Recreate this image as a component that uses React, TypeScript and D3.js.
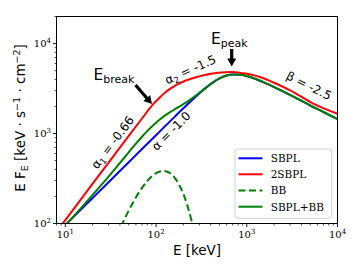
import React from 'react';
import * as d3 from 'd3';

// ---- data ----
const sbplE = [8, 10, 20, 30, 50, 70, 100, 150, 200, 300, 400, 500, 600, 700, 850, 1000, 1500, 2000, 3000, 5000, 7000, 10000];
const sbplV = [77, 96, 192, 288, 480, 672, 959, 1436, 1906, 2795, 3548, 4094, 4413, 4542, 4516, 4364, 3751, 3284, 2694, 2050, 1735, 1450];

const twoSbplE = [8, 10, 20, 30, 50, 70, 93, 110, 125, 145, 170, 210, 270, 345, 480, 700, 850, 1100, 1400, 2000, 3000, 5400, 10000];
const twoSbplV = [81, 109, 277, 476, 944, 1470, 2120, 2520, 2840, 3180, 3500, 3860, 4200, 4480, 4730, 4830, 4710, 4540, 4256, 3670, 3027, 2154, 1660];

const bbE = [30, 35, 40, 45, 50, 60, 70, 80, 90, 100, 110, 120, 130, 140, 160, 180, 200, 220, 240, 250, 260, 280, 300];
const bbV = [44, 64, 87, 112, 139, 195, 249, 296, 335, 363, 379, 384, 379, 367, 324, 269, 213, 162, 119, 101, 85, 60, 41];

const sumE = [8, 10, 20, 30, 40, 50, 60, 70, 80, 90, 100, 110, 120, 130, 140, 160, 180, 200, 220, 250, 300, 400, 500, 600, 700, 850, 1000, 1500, 2000, 3000, 5000, 7000, 10000];
const sumV = [77, 96, 208, 332, 471, 619, 771, 921, 1063, 1198, 1322, 1434, 1534, 1625, 1708, 1854, 1988, 2119, 2252, 2463, 2836, 3553, 4094, 4413, 4542, 4516, 4364, 3751, 3284, 2694, 2050, 1735, 1450];

const xDomain = [8, 10000];
const yDomain = [100, 20000];
const xMajor = [10, 100, 1000, 10000];
const xExp = ['1', '2', '3', '4'];
const yMajor = [100, 1000, 10000];
const yExp = ['2', '3', '4'];

const legendLabels = ['SBPL', '2SBPL', 'BB', 'SBPL+BB'];

// ---- layout ----
const W = 360, H = 270;
const L = 56.5, R = 337.5, T = 16.5, B = 223.5;

const BLUE = '#0000ff', RED = '#ff0000', GREEN = '#008000';
const SERIF = '"DejaVu Serif", serif';
const SANS = '"DejaVu Sans", sans-serif';

function minorTicks(lo: number, hi: number) {
  const out: number[] = [];
  for (let d = Math.pow(10, Math.floor(Math.log10(lo))); d < hi; d *= 10) {
    for (let k = 2; k <= 9; k++) {
      const v = k * d;
      if (v >= lo - 1e-9 && v <= hi + 1e-9) out.push(v);
    }
  }
  return out;
}

function arrowPath(x1: number, y1: number, x2: number, y2: number, sw = 1.6, hw = 4.5, hl = 8) {
  const dx = x2 - x1, dy = y2 - y1;
  const len = Math.hypot(dx, dy);
  const ux = dx / len, uy = dy / len;
  const px = -uy, py = ux;
  const bx = x2 - ux * hl, by = y2 - uy * hl;
  const pts = [
    [x1 + px * sw, y1 + py * sw],
    [bx + px * sw, by + py * sw],
    [bx + px * hw, by + py * hw],
    [x2, y2],
    [bx - px * hw, by - py * hw],
    [bx - px * sw, by - py * sw],
    [x1 - px * sw, y1 - py * sw],
  ];
  return 'M' + pts.map(p => p[0].toFixed(2) + ',' + p[1].toFixed(2)).join('L') + 'Z';
}

export default function App() {
  const x = d3.scaleLog().domain(xDomain).range([L, R]);
  const y = d3.scaleLog().domain(yDomain).range([B, T]);

  const mk = (es: number[], vs: number[]) =>
    d3.line<number>()
      .x((_, i) => x(es[i]))
      .y((_, i) => y(vs[i]))
      .curve(d3.curveMonotoneX)(vs) || '';

  const series = [
    { d: mk(sbplE, sbplV), color: BLUE, dash: undefined as string | undefined },
    { d: mk(twoSbplE, twoSbplV), color: RED, dash: undefined },
    { d: mk(bbE, bbV), color: GREEN, dash: '7,3.5' },
    { d: mk(sumE, sumV), color: GREEN, dash: undefined },
  ];

  const xMinor = minorTicks(xDomain[0], xDomain[1]);
  const yMinor = minorTicks(yDomain[0], yDomain[1]);

  const legendColors = [BLUE, RED, GREEN, GREEN];
  const legendDash = [undefined, undefined, '7,3.5', undefined];
  const legendRows = [158.3, 174.3, 190.6, 206.7];

  return (
    <svg width={W} height={H} viewBox={`0 0 ${W} ${H}`}
      style={{ position: 'absolute', left: 0, top: 0, background: '#fff' }}>
      <defs>
        <clipPath id="plotClip">
          <rect x={L} y={T} width={R - L} height={B - T} />
        </clipPath>
      </defs>
      <rect x={0} y={0} width={W} height={H} fill="#fff" />

      <g clipPath="url(#plotClip)">
        {series.map((s, i) => (
          <path key={i} d={s.d} fill="none" stroke={s.color} strokeWidth={2}
            strokeDasharray={s.dash} strokeLinejoin="round" />
        ))}
      </g>

      {/* frame */}
      <rect x={L} y={T} width={R - L} height={B - T} fill="none" stroke="#000" strokeWidth={1} />

      {/* x ticks */}
      {xMajor.map((v, i) => (
        <g key={'xm' + i}>
          <line x1={x(v)} x2={x(v)} y1={B} y2={B + 3.5} stroke="#000" strokeWidth={0.9} />
          <text x={x(v)} y={238} fontFamily={SERIF} fontSize={10} textAnchor="middle" fill="#000">
            10<tspan dy={-4.5} fontSize={7}>{xExp[i]}</tspan>
          </text>
        </g>
      ))}
      {xMinor.map((v, i) => (
        <line key={'xn' + i} x1={x(v)} x2={x(v)} y1={B} y2={B + 2} stroke="#000" strokeWidth={0.7} />
      ))}

      {/* y ticks */}
      {yMajor.map((v, i) => (
        <g key={'ym' + i}>
          <line x1={L - 3.5} x2={L} y1={y(v)} y2={y(v)} stroke="#000" strokeWidth={0.9} />
          <text x={51} y={y(v) + 3.6} fontFamily={SERIF} fontSize={10} textAnchor="end" fill="#000">
            10<tspan dy={-4.5} fontSize={7}>{yExp[i]}</tspan>
          </text>
        </g>
      ))}
      {yMinor.map((v, i) => (
        <line key={'yn' + i} x1={L - 2} x2={L} y1={y(v)} y2={y(v)} stroke="#000" strokeWidth={0.7} />
      ))}

      {/* axis labels */}
      <text x={197} y={255} fontFamily={SANS} fontSize={13.5} textAnchor="middle" fill="#000">
        E [keV]
      </text>
      <text transform="translate(25,118) rotate(-90)" fontFamily={SANS} fontSize={13.5} textAnchor="middle" fill="#000">
        E F<tspan dy={3} fontSize={9.5}>E</tspan><tspan dy={-3}>  [keV · s</tspan>
        <tspan dy={-5} fontSize={9.5}>−1</tspan><tspan dy={5}> · cm</tspan>
        <tspan dy={-5} fontSize={9.5}>−2</tspan><tspan dy={5}>]</tspan>
      </text>

      {/* annotations */}
      <text x={93.5} y={79.5} fontFamily={SANS} fontSize={15.5} fill="#000">
        E<tspan dy={3.5} fontSize={11}>break</tspan>
      </text>
      <path d={arrowPath(135.5, 85, 152, 104)} fill="#000" />

      <text x={211} y={43.5} fontFamily={SANS} fontSize={15.5} fill="#000">
        E<tspan dy={3.5} fontSize={11}>peak</tspan>
      </text>
      <path d={arrowPath(231.7, 49, 231.7, 66.5)} fill="#000" />

      <text transform="translate(116,145) rotate(-53)" fontFamily={SANS} fontSize={12} textAnchor="middle" fill="#000">
        α<tspan dy={2.5} fontSize={8.5}>1</tspan><tspan dy={-2.5}> = -0.66</tspan>
      </text>
      <text transform="translate(174,134) rotate(-45)" fontFamily={SANS} fontSize={12} textAnchor="middle" fill="#000">
        α = -1.0
      </text>
      <text transform="translate(192,73.5) rotate(-24)" fontFamily={SANS} fontSize={12} textAnchor="middle" fill="#000">
        α<tspan dy={2.5} fontSize={8.5}>2</tspan><tspan dy={-2.5}> = -1.5</tspan>
      </text>
      <text transform="translate(307,89.5) rotate(26.5)" fontFamily={SANS} fontSize={12} textAnchor="middle" fill="#000">
        β = -2.5
      </text>

      {/* legend */}
      <rect x={235} y={149} width={96.7} height={69.3} rx={3} ry={3}
        fill="#fff" fillOpacity={0.8} stroke="#cccccc" strokeWidth={0.9} />
      {legendLabels.map((lab, i) => (
        <g key={'lg' + i}>
          <line x1={238.5} x2={262.5} y1={legendRows[i]} y2={legendRows[i]}
            stroke={legendColors[i]} strokeWidth={2} strokeDasharray={legendDash[i]} />
          <text x={270.7} y={legendRows[i] + 3.8} fontFamily={SERIF} fontSize={10.5} fill="#000">{lab}</text>
        </g>
      ))}
    </svg>
  );
}
